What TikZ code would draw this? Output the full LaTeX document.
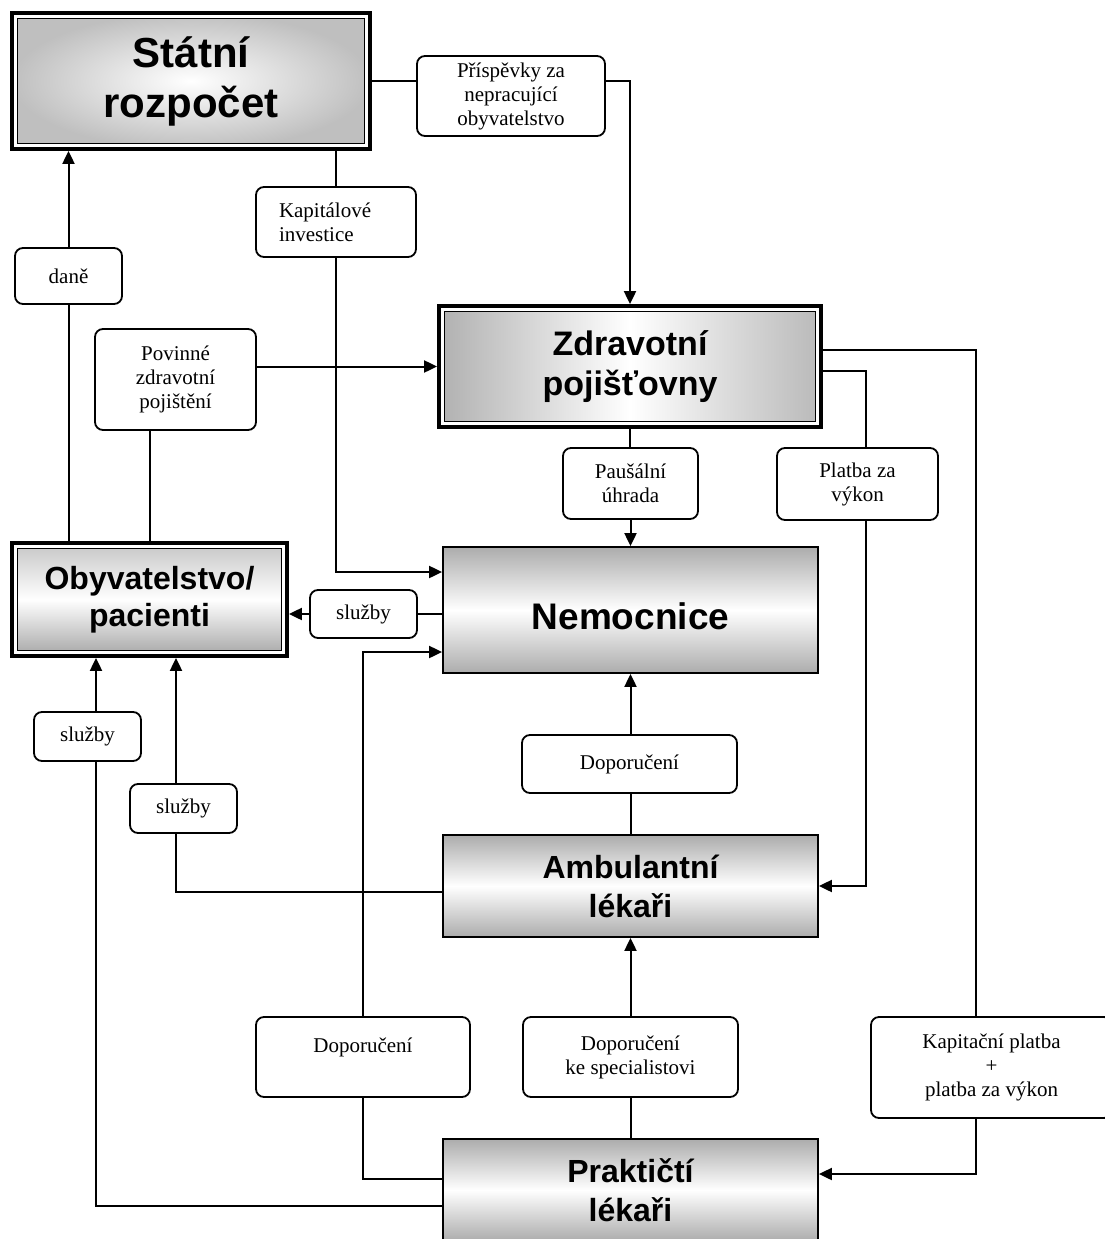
\documentclass[tikz,border=0pt]{standalone}
\usepackage{fontspec}
\setmainfont{Liberation Serif}
\newfontfamily\headfont{Liberation Sans}
\usetikzlibrary{arrows.meta}
\tikzset{
    lbl/.style={draw, rounded corners=8pt, line width=1.8pt, align=center,
        inner sep=0pt, font=\fontsize{21}{24}\selectfont},
    unit/.style={draw, line width=1.8pt, top color=gray!65, bottom color=gray!65,
        middle color=white, align=center, inner sep=0pt,
        font=\headfont\bfseries\fontsize{32}{39}\selectfont},
    dunit/.style={draw, line width=3.8pt, fill=white, align=center, inner sep=0pt,
        font=\headfont\bfseries\fontsize{32}{37}\selectfont,
        path picture={\draw[line width=1.4pt, #1]
            ([shift={(5.5pt,-5.5pt)}]path picture bounding box.north west) rectangle
            ([shift={(-5.5pt,5.5pt)}]path picture bounding box.south east);}},
    flow/.style={line width=2pt}
}
\begin{document}
\begin{tikzpicture}[x=1pt,y=-1pt,>={Triangle[length=13pt,width=12pt]}]
    \useasboundingbox (0,0) rectangle (1105,1239);
    \clip (0,0) rectangle (1105,1239);
    % lanes of the vertical connectors
    \coordinate (lnA) at (96,0);
    \coordinate (lnB) at (176,0);
    \coordinate (lnC) at (866,0);
    \coordinate (lnD) at (976,0);
    % main units
    \node[dunit={inner color=white, outer color=gray!50}, minimum width=358pt, minimum height=136pt,
        font=\headfont\bfseries\fontsize{42}{50}\selectfont] (sr) at (191,81) {Státní\\rozpočet};
    \node[dunit={left color=gray!62, right color=gray!55, middle color=white},
        minimum width=382pt, minimum height=121pt, font=\headfont\bfseries\fontsize{34}{40}\selectfont]
        (zp) at (630,366.5) {Zdravotní\\pojišťovny};
    \node[dunit={top color=gray!45, bottom color=gray!70, middle color=white},
        minimum width=275pt, minimum height=113pt] (obyv) at (149.5,599.5) {Obyvatelstvo/\\pacienti};
    \node[unit, minimum width=375pt, minimum height=126pt, text height=38pt, text depth=0pt,
        font=\headfont\bfseries\fontsize{37}{44}\selectfont] (nem) at (630.5,610) {Nemocnice};
    \node[unit, minimum width=375pt, minimum height=102pt] (amb) at (630.5,886) {Ambulantní\\lékaři};
    \node[unit, minimum width=375pt, minimum height=102pt] (prak) at (630.5,1190) {Praktičtí\\lékaři};
    % flow labels
    \node[lbl, minimum width=188pt, minimum height=80pt] (prisp) at (511,96) {Příspěvky za\\nepracující\\obyvatelstvo};
    \node[lbl, minimum width=160pt, minimum height=70pt, text width=114pt, inner xsep=23pt, align=left]
        (kap) at (336,222) {Kapitálové\\investice};
    \node[lbl, minimum width=107pt, minimum height=56pt] (dane) at (68.5,276) {daně};
    \node[lbl, minimum width=161pt, minimum height=101pt] (pov) at (175.5,379.5) {Povinné\\zdravotní\\pojištění};
    \node[lbl, minimum width=135pt, minimum height=71pt] (paus) at (630.5,483.5) {Paušální\\úhrada};
    \node[lbl, minimum width=161pt, minimum height=72pt] (platba) at (857.5,484) {Platba za\\výkon};
    \node[lbl, minimum width=107pt, minimum height=48pt] (sl1) at (363.5,614) {služby};
    \node[lbl, minimum width=215pt, minimum height=58pt] (dop1) at (629.5,764) {Doporučení};
    \node[lbl, minimum width=107pt, minimum height=49pt] (sl2) at (87.5,736.5) {služby};
    \node[lbl, minimum width=107pt, minimum height=49pt] (sl3) at (183.5,808.5) {služby};
    \node[lbl, minimum width=214pt, minimum height=80pt] (dop2) at (363,1057) {Doporučení\\\mbox{}};
    \node[lbl, minimum width=215pt, minimum height=80pt] (dop3) at (630.5,1057) {Doporučení\\ke specialistovi};
    \node[lbl, minimum width=241pt, minimum height=101pt] (kapit) at (991.5,1067.5)
        {Kapitační platba\\+\\platba za výkon};
    % connectors
    \draw[flow] (sr.east) -- (sr.east -| prisp.west);
    \draw[flow,->] (prisp.east |- sr.east) -| (zp.north);
    \draw[flow] (sr.south -| kap.north) -- (kap.north);
    \draw[flow,->] (kap.south) |- ([yshift=38pt]nem.west);
    \draw[flow] (obyv.north -| dane.south) -- (dane.south);
    \draw[flow,->] (dane.north) -- (dane.north |- sr.south);
    \draw[flow] (obyv.north) -- (obyv.north |- pov.south);
    \draw[flow,->] (pov.east |- zp.west) -- (zp.west);
    \draw[flow] ([yshift=17pt]zp.east) -| (kapit.north -| lnD);
    \draw[flow,->] (kapit.south -| lnD) |- ([yshift=16pt]prak.east);
    \draw[flow] ([yshift=-4pt]zp.east) -| (platba.north -| lnC);
    \draw[flow,->] (platba.south -| lnC) |- (amb.east);
    \draw[flow] (zp.south) -- (zp.south |- paus.north);
    \draw[flow,->] (paus.south) -- (nem.north);
    \draw[flow] (sl1.east) -- (sl1.east -| nem.west);
    \draw[flow,->] (sl1.west) -- (sl1.west -| obyv.east);
    \draw[flow] (amb.north) -- (amb.north |- dop1.south);
    \draw[flow,->] (dop1.north -| nem.south) -- (nem.south);
    \draw[flow] ([yshift=-6pt]amb.west) -| (sl3.south -| lnB);
    \draw[flow,->] (sl3.north -| lnB) -- (obyv.south -| lnB);
    \draw[flow] ([yshift=-16pt]prak.west) -| (sl2.south -| lnA);
    \draw[flow,->] (sl2.north -| lnA) -- (obyv.south -| lnA);
    \draw[flow] ([yshift=11pt]prak.west) -| (dop2.south);
    \draw[flow,->] (dop2.north) |- ([yshift=-42pt]nem.west);
    \draw[flow] (prak.north) -- (prak.north |- dop3.south);
    \draw[flow,->] (dop3.north) -- (dop3.north |- amb.south);
\end{tikzpicture}
\end{document}
